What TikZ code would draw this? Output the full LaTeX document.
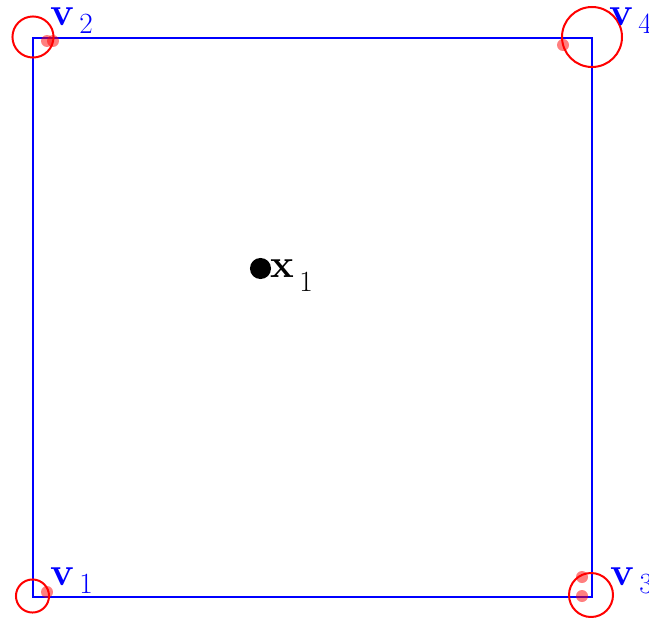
\documentclass[tikz,border=0pt]{standalone}
\definecolor{sqblue}{RGB}{0,0,255}
\definecolor{ringred}{RGB}{255,0,0}
\usepackage{amsmath}
\usepackage{amssymb}
\usepackage{tikz}
\usepackage{xcolor}
\newcommand{\sublab}[3]{\textbf{#1}\hspace{4pt}\raisebox{-#3}{\fontsize{22}{26}\selectfont #2}}
\newcommand{\vlab}[1]{\textcolor{sqblue}{\sublab{v}{#1}{6pt}}}

\begin{document}
\begin{tikzpicture}[x=0.75pt, y=-0.75pt,
    ring/.style={draw=ringred, line width=1.5pt},
    sample/.style={fill=ringred, opacity=0.5},
    vlabel/.style={anchor=base west, inner sep=0pt, font=\fontsize{30}{36}\selectfont}]
  \useasboundingbox (0,0) rectangle (649,617);
  % corners of the box
  \coordinate (c1) at (33,597);
  \coordinate (c2) at (33,38);
  \coordinate (c3) at (592,597);
  \coordinate (c4) at (592,38);
  \draw[sqblue, line width=1.1pt] (c1) -- (c3) -- (c4) -- (c2) -- cycle;
  % faded samples
  \fill[sample] (47,592) circle (4.5pt);
  \fill[sample] (47,41) circle (4.5pt);
  \fill[sample] (53,41) circle (4.5pt);
  \fill[sample] (582,577) circle (4.5pt);
  \fill[sample] (582,596) circle (4.5pt);
  \fill[sample] (563,45) circle (4.5pt);
  % uncertainty rings
  \draw[ring] (32.5,596) circle (12.4pt);
  \draw[ring] (33,37) circle (15.4pt);
  \draw[ring] (591,595) circle (16.5pt);
  \draw[ring] (592,37) circle (22.5pt);
  % labels
  \node[vlabel] (l1) at (50,585) {\vlab{1}};
  \node[vlabel] (l2) at (50,26) {\vlab{2}};
  \node[vlabel] (l3) at (610,585) {\vlab{3}};
  \node[vlabel] (l4) at (609,26) {\vlab{4}};
  % query point
  \fill (260.5,268.5) circle (7.9pt);
  \node[vlabel] (x1) at (270,277) {\sublab{x}{1}{10.5pt}};
\end{tikzpicture}
\end{document}
